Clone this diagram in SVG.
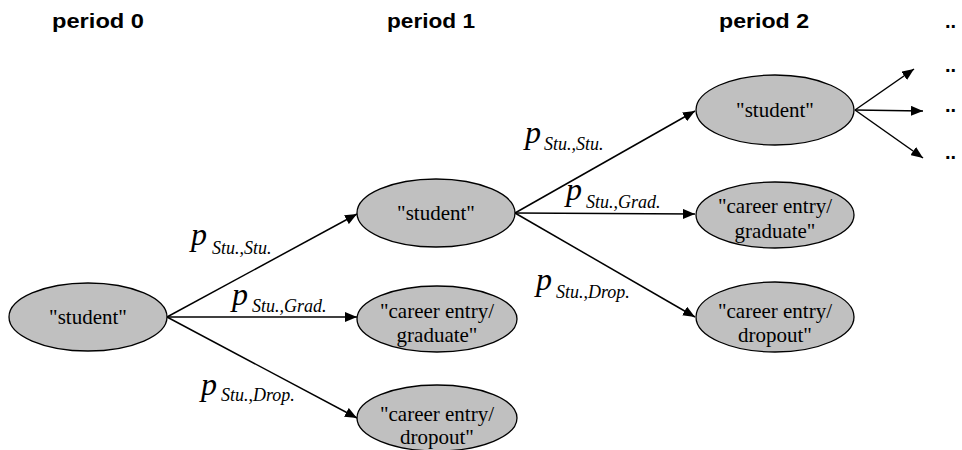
<svg xmlns="http://www.w3.org/2000/svg" width="962" height="450" viewBox="0 0 962 450">
<style>
.bg{fill:#ffffff}
.ell{fill:#c0c0c0;stroke:#000;stroke-width:1.3}
.nt{font-family:"Liberation Serif","Times New Roman",serif;font-size:21px;fill:#000;text-anchor:middle}
.per{font-family:"Liberation Sans",Arial,sans-serif;font-weight:bold;font-size:20px;fill:#000}
.cl{stroke:#000;stroke-width:1.5;marker-end:url(#ah)}
.lbl{font-family:"Liberation Serif","Times New Roman",serif;font-style:italic;fill:#000}
.pp{font-size:32px}
.sub{font-size:18px}
.dots{font-family:"Liberation Sans",Arial,sans-serif;font-weight:bold;font-size:20px;fill:#000}
</style>
<defs>
<marker id="ah" viewBox="0 0 12 10" refX="12" refY="5" markerWidth="12" markerHeight="10" markerUnits="userSpaceOnUse" orient="auto">
<path d="M0,0 L12,5 L0,10 z" fill="#000"/>
</marker>
</defs>
<rect class="bg" x="0" y="0" width="962" height="450"/>
<g id="period-labels">
<text class="per" x="52" y="28" textLength="92" lengthAdjust="spacingAndGlyphs">period 0</text>
<text class="per" x="387" y="28" textLength="88" lengthAdjust="spacingAndGlyphs">period 1</text>
<text class="per" x="719" y="28" textLength="90" lengthAdjust="spacingAndGlyphs">period 2</text>
<text class="dots" x="945" y="28">..</text>
</g>
<g id="connectors">
<line class="cl" x1="167" y1="317" x2="357" y2="214"/>
<line class="cl" x1="167" y1="317" x2="357" y2="317"/>
<line class="cl" x1="167" y1="317" x2="357" y2="418"/>
<line class="cl" x1="515" y1="213" x2="695" y2="111"/>
<line class="cl" x1="515" y1="213" x2="695" y2="214"/>
<line class="cl" x1="515" y1="213" x2="695" y2="317"/>
<line class="cl" x1="855" y1="110" x2="914" y2="69"/>
<line class="cl" x1="855" y1="110" x2="923" y2="111"/>
<line class="cl" x1="855" y1="110" x2="923" y2="158"/>
</g>
<g id="edge-labels">
<text class="lbl" x="191" y="245"><tspan class="pp">p</tspan><tspan class="sub" x="212" y="254">Stu.,Stu.</tspan></text>
<text class="lbl" x="232" y="305"><tspan class="pp">p</tspan><tspan class="sub" x="252" y="312">Stu.,Grad.</tspan></text>
<text class="lbl" x="201" y="395"><tspan class="pp">p</tspan><tspan class="sub" x="221" y="401">Stu.,Drop.</tspan></text>
<text class="lbl" x="525" y="143"><tspan class="pp">p</tspan><tspan class="sub" x="544" y="150">Stu.,Stu.</tspan></text>
<text class="lbl" x="566" y="200"><tspan class="pp">p</tspan><tspan class="sub" x="586" y="208">Stu.,Grad.</tspan></text>
<text class="lbl" x="536" y="290"><tspan class="pp">p</tspan><tspan class="sub" x="556" y="298">Stu.,Drop.</tspan></text>
</g>
<g id="p0-student">
<ellipse class="ell" cx="88" cy="317" rx="79" ry="34"/>
<text class="nt" x="88" y="324">"student"</text>
</g>
<g id="p1-student">
<ellipse class="ell" cx="436" cy="213" rx="79" ry="34"/>
<text class="nt" x="436" y="220">"student"</text>
</g>
<g id="p1-graduate">
<ellipse class="ell" cx="437" cy="319" rx="80" ry="33"/>
<text class="nt" x="437" y="318">"career entry/</text>
<text class="nt" x="437" y="342">graduate"</text>
</g>
<g id="p1-dropout">
<ellipse class="ell" cx="437" cy="418" rx="80" ry="33"/>
<text class="nt" x="437" y="421">"career entry/</text>
<text class="nt" x="437" y="444">dropout"</text>
</g>
<g id="p2-student">
<ellipse class="ell" cx="775" cy="110" rx="79" ry="35"/>
<text class="nt" x="775" y="117">"student"</text>
</g>
<g id="p2-graduate">
<ellipse class="ell" cx="775" cy="215" rx="79" ry="33"/>
<text class="nt" x="775" y="213">"career entry/</text>
<text class="nt" x="775" y="238">graduate"</text>
</g>
<g id="p2-dropout">
<ellipse class="ell" cx="775" cy="317" rx="79" ry="35"/>
<text class="nt" x="775" y="318">"career entry/</text>
<text class="nt" x="775" y="342">dropout"</text>
</g>
<g id="continuation-dots">
<text class="dots" x="945" y="72">..</text>
<text class="dots" x="945" y="112">..</text>
<text class="dots" x="945" y="159">..</text>
</g>
</svg>
